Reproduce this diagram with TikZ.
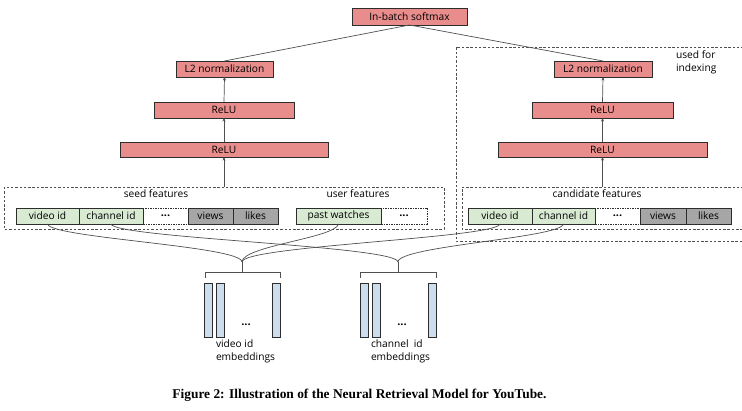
\documentclass[tikz,border=0pt]{standalone}
\usepackage{fontspec}
\setmainfont{Open Sans}
\newfontfamily\capfont{Liberation Serif}
\usetikzlibrary{arrows.meta}
\definecolor{redfill}{RGB}{233,140,140}
\definecolor{greenfill}{RGB}{217,234,211}
\definecolor{grayfill}{RGB}{166,166,166}
\definecolor{bluefill}{RGB}{204,222,238}
\definecolor{edge}{RGB}{45,45,45}
\definecolor{linegray}{RGB}{80,80,80}
\begin{document}
\begin{tikzpicture}[x=1pt,y=-1pt,
  every node/.style={inner sep=0pt,outer sep=0pt,font=\fontsize{10.2}{12}\selectfont},
  redbox/.style={draw=edge,line width=0.8pt,fill=redfill,minimum height=16pt},
  greenbox/.style={draw=edge,line width=0.8pt,fill=greenfill,minimum height=16pt},
  graybox/.style={draw=edge,line width=0.8pt,fill=grayfill,minimum height=16pt},
  dotbox/.style={draw=edge,line width=0.7pt,dash pattern=on 1.5pt off 1pt,minimum height=16pt},
  dashframe/.style={draw=linegray,line width=0.7pt,dash pattern=on 2.5pt off 1.8pt},
  conn/.style={draw=linegray,line width=0.7pt},
  arr/.style={conn,-{Stealth[length=3.5pt,width=3pt]}},
  bar/.style={draw=edge,line width=0.8pt,fill=bluefill,minimum width=8pt,minimum height=54pt},
  lbl/.style={font=\fontsize{10.2}{12.5}\selectfont},
  dots/.style={font=\fontsize{11}{12}\selectfont\bfseries}
]
\useasboundingbox (0,0) rectangle (742,411);
% frames
\draw[dashframe] (4,187) rectangle (444,229);
\draw[dashframe] (748,187) -- (462,187) -- (462,229) -- (748,229);
\draw[dashframe] (748,47) -- (456,47) -- (456,241) -- (748,241);
% top boxes
\node[redbox,minimum width=115pt,minimum height=17pt] (soft) at (409.5,16.5) {In-batch softmax};
\node[redbox,minimum width=97pt] (l2L) at (224.5,69) {L2 normalization};
\node[redbox,minimum width=98pt] (l2R) at (603,69) {L2 normalization};
\node[redbox,minimum width=140pt] (reluLa) at (224,110) {ReLU};
\node[redbox,minimum width=208pt,minimum height=15pt] (reluLb) at (224,149.5) {ReLU};
\node[redbox,minimum width=141pt] (reluRa) at (602.5,110) {ReLU};
\node[redbox,minimum width=209pt,minimum height=15pt] (reluRb) at (602.5,149.5) {ReLU};
\node[lbl,anchor=north west,align=left] (used) at (676,51) {used for\\indexing};
% labels
\node[lbl] (seedl) at (156,194) {seed features};
\node[lbl] (userl) at (358,194) {user features};
\node[lbl] (candl) at (597,194) {candidate features};
% feature boxes left
\node[greenbox,minimum width=63pt] (vid) at (47.5,216) {video id};
\node[greenbox,minimum width=64pt] (cid) at (111,216) {channel id};
\node[dotbox,minimum width=45pt,dots] (dots1) at (165.5,216) {...};
\node[graybox,minimum width=45pt] (views) at (210.5,216) {views};
\node[graybox,minimum width=45pt] (likes) at (255.5,216) {likes};
\node[greenbox,minimum width=85pt] (past) at (338.5,216) {past watches};
\node[dotbox,minimum width=46pt,dots] (dots2) at (404,216) {...};
% feature boxes right
\node[greenbox,minimum width=64pt] (cvid) at (500,216) {video id};
\node[greenbox,minimum width=63pt] (ccid) at (563.5,216) {channel id};
\node[dotbox,minimum width=45pt,dots] (cdots) at (617.5,216) {...};
\node[graybox,minimum width=46pt] (cviews) at (663,216) {views};
\node[graybox,minimum width=45pt] (clikes) at (708.5,216) {likes};
% frame tops as coordinates
\coordinate (fL) at (224,187);
\coordinate (fR) at (602.5,187);
% arrows
\draw[arr] (fL) -- (reluLb.south);
\draw[arr] (reluLb.north) -- (reluLa.south);
\draw[arr] (reluLa.north) -- (l2L.south);
\draw[arr] (fR) -- (reluRb.south);
\draw[arr] (reluRb.north) -- (reluRa.south);
\draw[arr] (reluRa.north) -- (l2R.south);
\draw[conn] (soft.south) -- (l2L.north);
\draw[conn] (soft.south) -- (l2R.north);
% embeddings
\coordinate (vtip) at (242,262);
\coordinate (ctip) at (398,262);
\draw[conn,line width=0.9pt] (205,278) -- (205,272) -- (280,272) -- (280,278);
\draw[conn,line width=0.9pt] (vtip) -- (242,272);
\draw[conn,line width=0.9pt] (360,278) -- (360,272) -- (436,272) -- (436,278);
\draw[conn,line width=0.9pt] (ctip) -- (398,272);
\node[bar] (vb1) at (208,310) {};
\node[bar] (vb2) at (220,310) {};
\node[bar] (vb3) at (276,310) {};
\node[bar] (cb1) at (364,310) {};
\node[bar] (cb2) at (376,310) {};
\node[bar] (cb3) at (432,310) {};
\node[dots] (vdots) at (246,325) {...};
\node[dots] (cdotsb) at (402,325) {...};
\node[lbl,anchor=north west,align=left] (vlab) at (216,340) {video id\\embeddings};
\node[lbl,anchor=north west,align=left] (clab) at (371,340) {channel\ \ id\\embeddings};
% curves
\draw[conn] (vid.south) .. controls +(3,14) and +(0,-16) .. (vtip);
\draw[conn] (cid.south) .. controls +(3,14) and +(0,-16) .. (ctip);
\draw[conn] (past.south) .. controls +(-3,14) and +(0,-16) .. (vtip);
\draw[conn] (cvid.south) .. controls +(-3,14) and +(0,-16) .. (vtip);
\draw[conn] (ccid.south) .. controls +(-3,14) and +(0,-16) .. (ctip);
% caption
\node[font=\capfont\bfseries\fontsize{13.4}{15}\selectfont] (cap) at (359.5,395) {Figure 2: Illustration of the Neural Retrieval Model for YouTube.};
\end{tikzpicture}
\end{document}
